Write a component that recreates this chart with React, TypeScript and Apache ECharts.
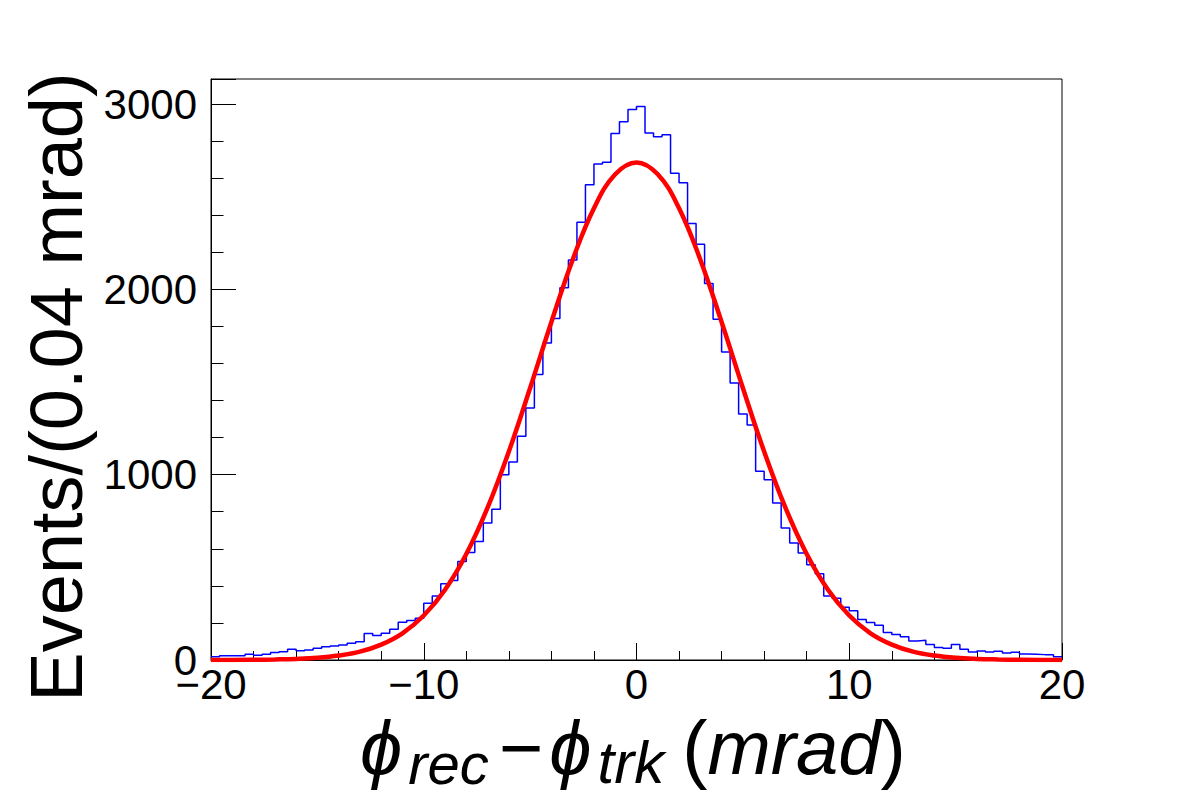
import React, { useEffect, useRef } from "react";
import * as echarts from "echarts";

// Histogram: 100 bins of 0.4 mrad from -20 to 20
const binLow = -20;
const binWidth = 0.4;
const histCounts = [
  18, 23, 23, 23, 31, 25, 31, 40, 45, 58,
  50, 54, 63, 72, 76, 81, 90, 99, 143, 132,
  145, 166, 204, 213, 225, 306, 346, 411, 429, 532,
  580, 640, 739, 814, 1000, 1068, 1207, 1360, 1541, 1710,
  1843, 2009, 2159, 2362, 2564, 2676, 2686, 2841, 2905, 2970,
  2987, 2843, 2823, 2834, 2627, 2575, 2355, 2243, 2032, 1838,
  1662, 1495, 1328, 1268, 1018, 973, 847, 712, 631, 577,
  514, 465, 346, 333, 284, 266, 218, 202, 188, 148,
  137, 126, 103, 106, 83, 68, 63, 84, 58, 43,
  49, 43, 47, 38, 42, 33, 31, 29, 29, 18,
];

// Fitted curve, read at 1 mrad steps
const fitX = [
  -20, -19, -18, -17, -16, -15, -14, -13, -12, -11, -10, -9, -8, -7, -6, -5, -4, -3, -2, -1,
  0, 1, 2, 3, 4, 5, 6, 7, 8, 9, 10, 11, 12, 13, 14, 15, 16, 17, 18, 19, 20,
];
const fitY = [
  0, 0, 1, 3, 6, 12, 24, 45, 83, 144, 240, 379, 572, 822, 1125, 1468, 1824, 2160, 2438, 2621,
  2685, 2621, 2438, 2160, 1824, 1468, 1125, 822, 572, 379, 240, 144, 83, 45, 24, 12, 6, 3, 1, 0, 0,
];

const xTickLabels = [-20, -10, 0, 10, 20];
const yTickLabels = [0, 1000, 2000, 3000];
const yMax = 3135;

const FONT = '"Liberation Sans", Arial, Helvetica, sans-serif';

export default function App() {
  const ref = useRef<HTMLDivElement>(null);

  useEffect(() => {
    if (!ref.current) return;
    const chart = echarts.init(ref.current, null, { renderer: "svg" });

    const histData: number[][] = histCounts.map((v, i) => [binLow + i * binWidth, v]);
    histData.push([binLow + histCounts.length * binWidth, histCounts[histCounts.length - 1]]);
    const fitData = fitX.map((x, i) => [x, fitY[i]]);

    const fmtX = (v: number) => {
      if (!xTickLabels.includes(v)) return "";
      return v < 0 ? "\u2212" + Math.abs(v) : String(v);
    };

    chart.setOption({
      animation: false,
      backgroundColor: "#ffffff",
      grid: {
        left: 211,
        top: 79,
        right: 120,
        bottom: 143,
        show: true,
        borderColor: "#000",
        borderWidth: 1,
        backgroundColor: "transparent",
        containLabel: false,
      },
      xAxis: {
        type: "value",
        min: -20,
        max: 20,
        interval: 10,
        axisLine: { show: true, onZero: false, lineStyle: { color: "#000", width: 1 } },
        axisTick: { show: true, inside: true, length: 17, lineStyle: { color: "#000", width: 1 } },
        minorTick: { show: true, splitNumber: 5, length: 9, lineStyle: { color: "#000", width: 1 } },
        axisLabel: {
          formatter: fmtX,
          fontSize: 42,
          color: "#000",
          fontFamily: FONT,
          margin: 3,
          showMinLabel: true,
          showMaxLabel: true,
        },
        splitLine: { show: false },
      },
      yAxis: [
        {
          type: "value",
          min: 0,
          max: yMax,
          interval: 1000,
          axisLine: { show: true, onZero: false, lineStyle: { color: "#000", width: 1 } },
          axisTick: { show: true, inside: true, length: 25, lineStyle: { color: "#000", width: 1 } },
          axisLabel: {
            formatter: (v: number) => (yTickLabels.includes(v) ? String(v) : ""),
            fontSize: 42,
            color: "#000",
            fontFamily: FONT,
            margin: 14,
          },
          splitLine: { show: false },
        },
        {
          type: "value",
          min: 0,
          max: yMax,
          interval: 200,
          position: "left",
          offset: 0,
          axisLine: { show: false, onZero: false },
          axisTick: { show: true, inside: true, length: 12.5, lineStyle: { color: "#000", width: 1 } },
          axisLabel: { show: false },
          splitLine: { show: false },
        },
      ],
      series: [
        {
          type: "line",
          name: "hist",
          data: histData,
          step: "end",
          showSymbol: false,
          symbol: "none",
          yAxisIndex: 0,
          lineStyle: { color: "#0000ff", width: 1.5 },
          z: 2,
        },
        {
          type: "line",
          name: "fit",
          data: fitData,
          smooth: 0.4,
          showSymbol: false,
          symbol: "none",
          yAxisIndex: 0,
          lineStyle: { color: "#ff0000", width: 4.5 },
          z: 3,
        },
      ],
      graphic: [
        {
          type: "text",
          x: 56,
          y: 387,
          rotation: Math.PI / 2,
          style: {
            text: "Events/(0.04 mrad)",
            fontSize: 74,
            fontFamily: FONT,
            fill: "#000",
            align: "center",
            verticalAlign: "middle",
          },
        },
        {
          type: "text",
          x: 360,
          y: 702,
          style: {
            text: "{phi|\u03d5}{sub|rec}{op|\u2212}{phi|\u03d5}{sub2|trk}{n|(}{it|mrad}{n|)}",
            align: "left",
            verticalAlign: "top",
            fill: "#000",
            rich: {
              phi: { fontSize: 76, fontStyle: "italic", fontFamily: FONT, lineHeight: 90, fill: "#000" },
              sub: {
                fontSize: 58,
                fontStyle: "italic",
                fontFamily: FONT,
                lineHeight: 38,
                verticalAlign: "bottom",
                fill: "#000",
                padding: [0, 4, 0, 6],
              },
              sub2: {
                fontSize: 60,
                fontStyle: "italic",
                fontFamily: FONT,
                lineHeight: 38,
                verticalAlign: "bottom",
                fill: "#000",
                padding: [0, 18, 0, 6],
              },
              op: { fontSize: 76, fontFamily: FONT, lineHeight: 90, fill: "#000", padding: [0, 6, 0, 6] },
              n: { fontSize: 76, fontFamily: FONT, lineHeight: 90, fill: "#000" },
              it: { fontSize: 76, fontStyle: "italic", fontFamily: FONT, lineHeight: 90, fill: "#000" },
            },
          },
        },
      ],
    });

    return () => {
      chart.dispose();
    };
  }, []);

  return (
    <div
      ref={ref}
      style={{ position: "fixed", left: 0, top: 0, width: 1182, height: 803, background: "#fff" }}
    />
  );
}
